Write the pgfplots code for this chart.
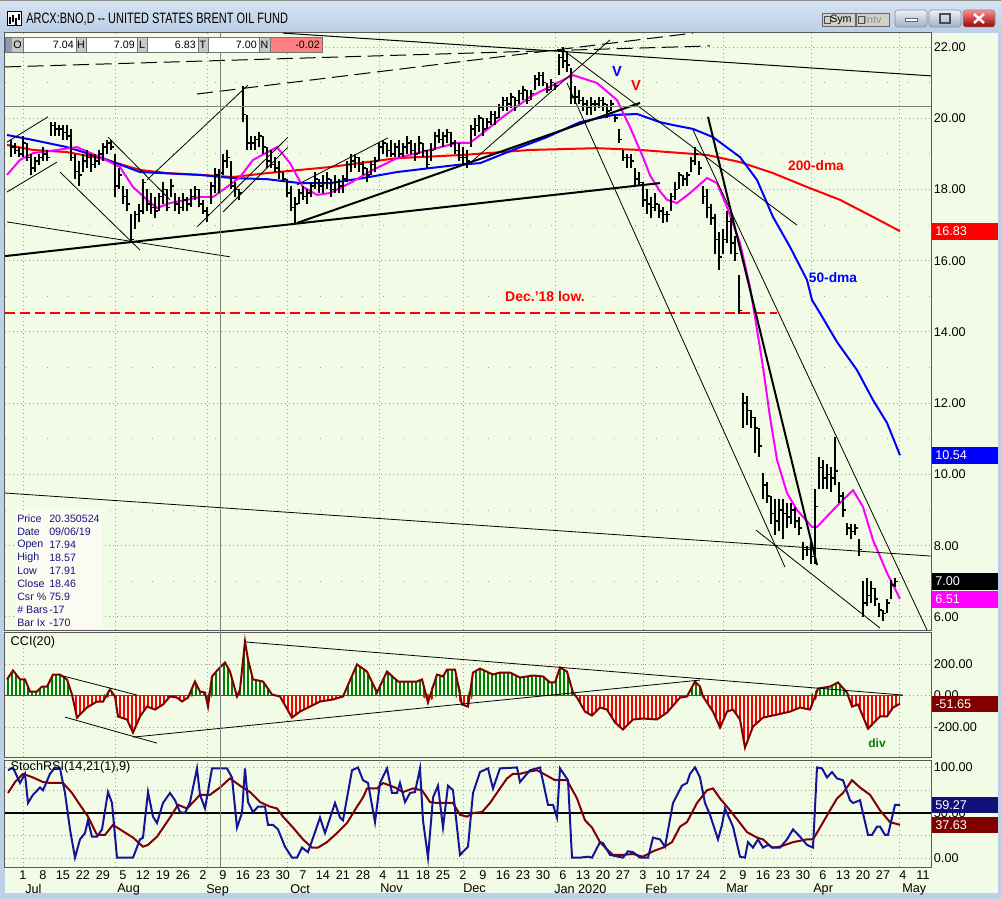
\documentclass[border=0pt]{standalone}
\usepackage{fontspec}
\setmainfont{Liberation Sans}
\newfontfamily\titlef[FakeStretch=0.73]{Liberation Sans}
\usepackage{pgfplots}
\usepackage{pgfplotstable}
\pgfplotsset{compat=1.18}
\usetikzlibrary{patterns.meta}

\definecolor{bg}{RGB}{242,251,230}
\definecolor{win}{RGB}{188,208,232}
\definecolor{titletop}{RGB}{215,228,242}
\definecolor{titlebot}{RGB}{186,206,230}
\definecolor{gridc}{RGB}{160,160,160}
\definecolor{ma50}{RGB}{0,0,255}
\definecolor{mag}{RGB}{255,0,255}
\definecolor{dred}{RGB}{128,0,0}
\definecolor{navy}{RGB}{20,20,150}
\definecolor{cgreen}{RGB}{0,128,0}
\definecolor{infoc}{RGB}{20,20,130}
\definecolor{infobg}{RGB}{252,251,242}
\definecolor{salmon}{RGB}{255,128,128}
\definecolor{cellg}{RGB}{200,200,200}
\definecolor{btn}{RGB}{212,208,200}

\newcommand\tf{\fontsize{9.5pt}{11pt}\selectfont}
\newcommand\smf{\fontsize{8pt}{9.75pt}\selectfont}

\pgfdeclareplotmark{rtick}{%
  \pgfpathmoveto{\pgfqpoint{0pt}{0pt}}%
  \pgfpathlineto{\pgfqpoint{\pgfplotmarksize}{0pt}}%
  \pgfusepathqstroke}

\pgfplotsset{panel/.style={
  scale only axis, width=694.5pt, xmin=5, xmax=931,
  axis background/.style={fill=bg},
  axis line style={draw=black!65, line width=0.75pt},
  major tick length=0pt, minor tick length=0pt,
  yticklabel pos=right,
  yticklabel style={font=\tf, anchor=west, inner sep=2pt},
  xticklabel style={font=\tf},
  major grid style={gridc, line width=0.75pt, dash pattern=on 0.75pt off 2.25pt},
  minor grid style={gridc, line width=0.75pt, dash pattern=on 0.75pt off 15pt},
}}

% daily bars: trading-day index t (x = 23 + 4 t pixels-of-time), high, low, close
\pgfplotstableread{
t h l c
-3 19.4 18.9 19.2
-2 19.3 19.0 19.1
-1 19.2 18.9 19.0
0 19.5 18.9 19.3
1 19.3 18.8 18.9
2 19.0 18.4 18.6
3 18.9 18.5 18.8
4 19.0 18.7 18.9
5 19.2 18.8 19.0
6 19.1 18.8 18.9
7 19.9 19.5 19.8
8 19.9 19.5 19.7
9 19.8 19.5 19.7
10 19.8 19.4 19.6
11 19.8 19.4 19.5
12 19.7 18.8 18.9
13 19.0 18.3 18.5
14 18.8 18.1 18.4
15 19.0 18.5 18.8
16 19.1 18.6 18.9
17 19.0 18.5 18.7
18 19.0 18.6 18.8
19 19.1 18.7 19.0
20 19.3 18.8 19.2
21 19.4 19.0 19.3
22 19.4 19.1 19.2
23 19.0 17.8 18.1
24 18.6 18.0 18.4
25 18.1 17.6 17.8
26 18.0 17.4 17.6
27 17.3 16.5 16.6
28 17.4 16.9 17.3
29 17.6 17.1 17.4
30 18.3 17.3 18.2
31 18.0 17.4 17.6
32 17.9 17.3 17.5
33 17.8 17.2 17.4
34 17.9 17.4 17.8
35 18.2 17.6 18.0
36 18.0 17.4 17.5
37 18.3 17.8 18.1
38 17.9 17.4 17.6
39 17.8 17.3 17.5
40 17.9 17.4 17.7
41 17.8 17.4 17.6
42 18.0 17.5 17.8
43 18.1 17.7 18.0
44 18.0 17.5 17.6
45 17.7 17.3 17.4
46 17.5 17.1 17.3
47 18.2 17.6 18.1
48 18.6 17.9 18.4
49 18.57 17.91 18.46
50 19.0 18.4 18.8
51 19.1 18.6 18.9
52 18.8 18.0 18.1
53 18.2 17.8 18.0
54 18.0 17.7 17.9
55 20.9 19.9 20.1
56 20.1 19.1 19.3
57 19.5 19.1 19.3
58 19.5 19.1 19.4
59 19.6 19.2 19.5
60 19.5 19.0 19.2
61 19.2 18.6 18.8
62 19.1 18.6 18.7
63 18.9 18.5 18.6
64 18.8 18.3 18.5
65 18.5 18.2 18.3
66 18.3 17.8 17.9
67 18.1 17.4 17.5
68 17.8 17.05 17.6
69 18.0 17.6 17.9
70 18.1 17.7 17.8
71 18.0 17.6 17.9
72 18.2 17.8 18.1
73 18.5 18.0 18.3
74 18.3 17.9 18.1
75 18.4 17.9 18.2
76 18.5 18.0 18.3
77 18.3 17.8 18.0
78 18.4 17.9 18.2
79 18.3 17.9 18.1
80 18.4 17.9 18.3
81 18.8 18.2 18.7
82 19.0 18.5 18.8
83 19.0 18.6 18.9
84 18.9 18.5 18.7
85 18.8 18.4 18.6
86 18.6 18.2 18.4
87 18.8 18.4 18.7
88 18.9 18.5 18.8
89 19.3 18.8 19.2
90 19.4 19.0 19.3
91 19.3 18.9 19.1
92 19.4 18.9 19.0
93 19.3 18.9 19.2
94 19.4 18.9 19.0
95 19.3 18.9 19.2
96 19.5 19.0 19.3
97 19.4 19.0 19.1
98 19.3 18.8 19.0
99 19.5 19.0 19.3
100 19.3 18.9 19.1
101 19.1 18.6 18.7
102 19.3 18.8 19.1
103 19.6 19.1 19.5
104 19.7 19.3 19.4
105 19.6 19.2 19.5
106 19.7 19.3 19.6
107 19.6 19.2 19.3
108 19.4 19.0 19.1
109 19.3 18.8 18.9
110 19.2 18.7 18.9
111 19.1 18.6 18.8
112 19.8 19.2 19.7
113 20.0 19.5 19.8
114 20.1 19.6 20.0
115 20.0 19.5 19.7
116 20.0 19.7 19.9
117 20.2 19.8 20.1
118 20.2 19.8 20.0
119 20.4 20.0 20.3
120 20.6 20.2 20.5
121 20.6 20.2 20.4
122 20.7 20.3 20.6
123 20.6 20.2 20.5
124 20.8 20.4 20.7
125 20.9 20.5 20.8
126 20.8 20.4 20.5
127 20.8 20.5 20.7
128 21.2 20.8 21.1
129 21.3 20.9 21.2
130 21.3 20.9 21.0
131 21.0 20.7 20.8
132 21.1 20.8 21.0
133 21.0 20.8 20.9
134 21.8 21.2 21.7
135 22.0 21.4 21.6
136 21.9 21.3 21.5
137 21.4 20.4 20.6
138 20.9 20.4 20.6
139 20.8 20.4 20.5
140 20.6 20.2 20.4
141 20.5 20.1 20.3
142 20.6 20.1 20.4
143 20.5 20.2 20.4
144 20.6 20.3 20.5
145 20.6 20.2 20.4
146 20.4 20.0 20.2
147 20.5 20.2 20.4
148 20.1 19.9 20.0
149 19.7 19.3 19.4
150 19.1 18.8 18.9
151 19.0 18.6 18.9
152 19.0 18.6 18.8
153 18.6 18.1 18.3
154 18.5 18.1 18.2
155 18.2 17.5 17.7
156 18.0 17.3 17.6
157 17.8 17.2 17.5
158 17.9 17.4 17.6
159 17.6 17.2 17.4
160 17.5 17.05 17.3
161 17.4 17.1 17.3
162 17.9 17.4 17.8
163 18.2 17.7 18.0
164 18.5 18.0 18.4
165 18.4 18.1 18.3
166 18.5 18.1 18.4
167 18.9 18.5 18.8
168 19.2 18.7 19.0
169 18.8 18.4 18.6
170 18.1 17.6 17.8
171 18.0 17.2 17.5
172 17.6 17.0 17.2
173 17.3 16.2 16.6
174 16.8 15.75 16.1
175 16.9 16.2 16.6
176 17.4 16.5 17.1
177 17.2 16.2 16.5
178 16.7 16.0 16.2
179 15.6 14.5 14.6
180 12.3 11.3 12.0
181 12.2 11.4 11.8
182 11.8 11.3 11.6
183 11.6 10.6 11.3
184 11.3 10.5 10.8
185 10.05 9.3 9.7
186 9.8 9.2 9.4
187 9.4 8.6 8.9
188 9.3 8.3 8.7
189 9.3 8.4 9.0
190 9.3 8.2 8.9
191 9.2 8.5 8.8
192 9.2 8.6 9.0
193 9.1 8.5 8.7
194 8.8 8.3 8.5
195 8.1 7.6 7.9
196 8.0 7.7 7.9
197 8.1 7.5 7.7
198 9.6 7.5 9.1
199 10.5 9.6 10.2
200 10.4 9.6 9.9
201 10.3 9.6 10.0
202 10.2 9.5 9.9
203 11.05 9.7 10.1
204 9.8 9.2 9.4
205 9.5 8.8 9.0
206 8.65 8.3 8.5
207 8.6 8.2 8.4
208 8.6 8.3 8.5
209 8.2 7.7 7.9
210 7.0 6.0 6.4
211 7.1 6.3 6.6
212 7.0 6.4 6.8
213 6.8 6.3 6.5
214 6.4 6.0 6.2
215 6.2 5.9 6.1
216 6.5 6.1 6.4
217 7.05 6.5 6.9
218 7.09 6.83 7.00
}\price

\pgfplotstableread{
x v
7 19.25
33 19.11
67 19.05
100 18.88
140 18.55
167 18.46
200 18.41
233 18.35
267 18.46
300 18.55
330 18.63
397 18.88
463 18.97
530 19.11
597 19.16
640 19.11
707 18.97
740 18.77
773 18.46
807 18.07
840 17.71
873 17.23
900 16.83
}\maA

\pgfplotstableread{
x v
7 19.53
33 19.39
67 19.19
100 18.91
140 18.49
200 18.41
233 18.32
267 18.29
300 18.18
330 18.18
363 18.32
397 18.49
457 18.69
480 18.74
513 19.11
547 19.47
580 19.89
613 20.09
637 20.12
660 19.89
673 19.81
693 19.70
713 19.47
740 18.91
757 18.27
773 17.23
790 16.39
807 15.46
812 14.90
820 14.53
837 13.72
857 12.93
873 12.09
887 11.45
900 10.54
}\maB

\pgfplotstableread{
x v
7 18.41
20 18.83
33 19.02
57 19.11
77 19.19
100 18.91
120 18.63
133 18.07
147 17.71
157 17.48
170 17.62
187 17.71
200 17.79
213 17.79
227 18.07
240 18.35
253 18.83
277 19.19
290 18.74
303 18.07
317 17.85
330 17.90
350 18.18
373 18.55
397 18.88
430 19.11
457 19.31
470 19.31
483 19.59
503 20.04
530 20.60
557 20.99
573 21.21
597 20.99
617 20.51
630 19.75
643 18.91
650 18.40
660 17.95
667 17.71
677 17.62
690 17.90
707 18.32
717 18.18
727 17.51
740 16.50
750 15.26
755 14.42
763 13.02
770 11.61
777 10.41
787 9.48
797 9.00
812 8.53
817 8.53
833 9.00
840 9.20
853 9.56
863 9.09
873 8.16
887 7.24
900 6.51
}\maC

\pgfplotstableread{
x v
7 102
13 159
20 102
25 102
30 25
37 25
42 57
47 57
53 133
60 133
67 102
72 6
77 -140
87 -76
97 -38
103 -38
110 38
115 -6
118 -133
127 -152
133 -235
140 -133
147 -70
155 -89
163 -57
170 -6
177 -13
182 -38
188 -13
195 89
200 25
205 19
208 -70
212 121
218 165
225 210
230 152
237 -6
240 38
245 343
248 229
253 102
263 89
272 6
280 -6
292 -140
300 -102
310 -70
320 -38
333 -25
343 -6
357 197
367 152
377 19
387 152
398 89
417 89
422 102
428 -44
437 133
443 121
447 165
455 165
462 -57
468 -70
473 146
480 171
493 133
500 146
510 146
520 114
533 127
543 121
550 83
555 83
560 178
567 152
573 19
577 -13
585 -102
592 -127
600 -76
607 -89
615 -171
623 -216
633 -152
643 -146
657 -152
667 -108
680 -13
687 -6
695 89
700 57
703 -6
713 -102
720 -203
727 -102
733 -89
740 -152
745 -330
753 -197
763 -140
777 -121
790 -102
800 -76
810 -89
818 44
830 57
838 83
847 19
852 -70
858 -57
868 -210
880 -133
887 -133
893 -76
900 -52
}\cci

\pgfplotstableread{
x v
8 97
13 100
20 83
25 93
28 61
33 70
40 78
43 75
50 93
55 100
60 99
65 72
70 32
75 1
80 21
85 28
88 42
92 24
97 24
102 32
108 73
112 61
117 1
125 1
133 1
140 21
143 23
148 73
153 46
157 39
163 61
170 72
175 64
180 51
185 50
190 62
197 99
200 70
205 55
212 99
227 99
232 89
237 34
242 50
245 99
248 62
253 51
258 57
265 57
268 37
273 37
278 32
285 13
292 1
297 1
302 12
308 7
315 29
320 45
325 28
335 61
340 45
343 42
352 97
358 100
363 86
368 83
375 40
380 83
387 99
392 72
397 72
400 83
405 62
410 72
415 73
420 99
423 42
428 1
433 67
438 80
443 34
448 80
453 75
460 4
468 13
473 72
480 95
488 99
493 77
500 99
517 100
520 84
530 97
540 100
548 59
553 59
557 45
560 99
568 86
572 1
580 1
588 2
592 1
600 18
603 17
610 4
623 1
628 8
633 7
640 1
648 1
653 23
660 21
665 13
673 61
682 80
687 83
690 93
695 100
700 89
705 61
710 48
718 21
722 37
725 55
733 35
740 2
745 1
748 18
753 12
758 21
763 12
768 15
773 12
780 12
787 21
793 32
800 24
807 15
813 12
817 100
822 99
827 89
832 95
837 88
843 86
850 64
853 61
860 64
868 26
872 26
877 35
880 35
885 26
888 26
895 59
900 59
}\srsi

\pgfplotstableread{
x v
8 72
15 84
23 93
33 89
43 84
50 83
63 83
72 72
78 62
88 46
97 26
105 26
113 37
120 32
133 23
143 13
148 15
157 24
170 45
178 59
187 55
195 64
200 70
210 70
220 78
230 88
240 80
250 73
260 62
270 57
277 55
283 46
293 34
303 21
312 12
318 12
327 18
337 28
347 39
357 57
363 67
367 77
377 77
383 83
395 78
403 73
413 77
422 75
430 62
437 61
447 61
453 61
460 48
467 46
473 50
482 51
490 61
500 77
507 88
513 93
520 93
527 95
537 97
547 91
555 86
567 86
577 66
585 42
592 34
600 18
607 10
613 4
623 4
633 5
643 2
653 8
663 12
672 18
680 35
687 40
697 61
707 75
713 77
720 66
730 53
740 39
747 29
757 23
763 21
772 12
780 13
793 18
807 21
813 21
820 34
830 53
837 66
843 72
852 86
860 78
870 70
880 53
890 40
900 37
}\sig

\begin{document}
\begin{tikzpicture}
% ---------- window background ----------
\begin{scope}[x=0.75pt,y=-0.75pt]
  \fill[bg] (0,0) rectangle (1001,899);
  \shade[top color=titletop, bottom color=titlebot] (0,0) rectangle (1001,33);
  \draw[black!45, line width=0.75pt] (0,0.5) -- (1001,0.5);
  \fill[win] (0,33) rectangle (5,899);
  \fill[win] (998,33) rectangle (1001,899);
  \fill[win] (0,893) rectangle (1001,899);
\end{scope}

% ---------- price panel ----------
\begin{axis}[panel, at={(3.75pt,-24.75pt)}, anchor=north west, height=447.75pt,
  ymin=5.635, ymax=22.393,
  ytick={6,8,10,12,14,16,18,20,22},
  yticklabels={6.00,8.00,10.00,12.00,14.00,16.00,18.00,20.00,22.00},
  minor ytick={7,9,11,13,15,17,19,21},
  xtick={23,115,207,287,379,463,555,643,723,811,899}, xticklabels={},
  ymajorgrids, yminorgrids, xmajorgrids]
  % Dec '18 low
  \addplot[red, line width=1.1pt, dash pattern=on 7.5pt off 3.75pt] coordinates {(5,14.53) (777,14.53)};
  % moving averages
  \addplot[red, line width=1.5pt] table[x=x,y=v] {\maA};
  \addplot[ma50, line width=1.5pt] table[x=x,y=v] {\maB};
  \addplot[mag, line width=1.5pt] table[x=x,y=v] {\maC};
  % trend lines (thin)
  \addplot[black, line width=0.75pt, dash pattern=on 12pt off 5pt] coordinates {(5,21.44) (710,22.03)};
  \addplot[black, line width=0.75pt, dash pattern=on 12pt off 5pt] coordinates {(197,20.68) (693,22.39)};
  \addplot[black, line width=0.75pt] coordinates {(283,22.39) (931,21.19)};
  \addplot[black, line width=0.6pt] coordinates {(7,17.93) (57,18.77)};
  \addplot[black, line width=0.6pt] coordinates {(7,19.33) (48,20.04)};
  \addplot[black, line width=0.6pt] coordinates {(60,18.49) (140,16.30)};
  \addplot[black, line width=0.6pt] coordinates {(108,19.47) (170,17.71)};
  \addplot[black, line width=0.6pt] coordinates {(7,17.09) (230,16.11)};
  \addplot[black, line width=0.6pt] coordinates {(147,18.27) (248,20.93)};
  \addplot[black, line width=0.6pt] coordinates {(197,16.95) (288,19.47)};
  \addplot[black, line width=0.6pt] coordinates {(223,17.37) (288,19.19)};
  \addplot[black, line width=0.6pt] coordinates {(297,18.13) (388,19.45)};
  \addplot[black, line width=0.6pt] coordinates {(470,18.74) (610,22.20)};
  \addplot[black, line width=0.6pt] coordinates {(567,20.99) (785,7.40)};
  \addplot[black, line width=0.6pt] coordinates {(563,21.92) (797,17.00)};
  \addplot[black, line width=0.6pt] coordinates {(693,19.67) (927,5.635)};
  \addplot[black, line width=0.6pt] coordinates {(5,9.48) (931,7.71)};
  \addplot[black, line width=0.6pt] coordinates {(756,8.44) (880,5.69)};
  % thick trend lines
  \addplot[black, line width=1.5pt] coordinates {(5,16.13) (660,18.18)};
  \addplot[black, line width=1.5pt] coordinates {(297,17.06) (640,20.43)};
  \addplot[black, line width=1.5pt] coordinates {(708,20.04) (817,7.46)};
  % price bars
  \addplot[black, only marks, mark=rtick, mark size=2pt, mark options={line width=1.2pt},
    error bars/.cd, y dir=both, y explicit, error mark=none,
    error bar style={line width=1.3pt, black}]
    table[x expr=23+4*\thisrow{t}, y=c,
          y error plus expr=\thisrow{h}-\thisrow{c},
          y error minus expr=\thisrow{c}-\thisrow{l}] {\price};
  % annotations
  \node[red, font=\fontsize{10.5pt}{12pt}\selectfont\bfseries] at (axis cs:545,15.01) {Dec.'18 low.};
  \node[red, font=\fontsize{10.3pt}{12pt}\selectfont\bfseries] at (axis cs:816,18.66) {200-dma};
  \node[ma50, font=\fontsize{10.3pt}{12pt}\selectfont\bfseries] at (axis cs:833,15.52) {50-dma};
  \node[ma50, font=\fontsize{11pt}{12pt}\selectfont\bfseries] at (axis cs:617,21.30) {V};
  \node[red, font=\fontsize{11pt}{12pt}\selectfont\bfseries] at (axis cs:636,20.93) {V};
\end{axis}

% ---------- CCI panel ----------
\begin{axis}[panel, at={(3.75pt,-474pt)}, anchor=north west, height=93.75pt,
  ymin=-390, ymax=403,
  ytick={-200,0,200}, yticklabels={-200.00,0.00,200.00},
  xtick={23,115,207,287,379,463,555,643,723,811,899}, xticklabels={},
  ymajorgrids, xmajorgrids]
  \addplot[draw=none, pattern={Lines[angle=90,distance=3pt,line width=0.8pt]}, pattern color=cgreen]
    table[x=x, y expr={max(\thisrow{v},0)}] {\cci} \closedcycle;
  \addplot[draw=none, pattern={Lines[angle=90,distance=3pt,line width=0.8pt]}, pattern color=red]
    table[x=x, y expr={min(\thisrow{v},0)}] {\cci} \closedcycle;
  \addplot[red, line width=0.75pt] coordinates {(5,0) (903,0)};
  \addplot[dred, line width=1.5pt] table[x=x,y=v] {\cci};
  \addplot[black, line width=0.6pt] coordinates {(63,124) (137,3)};
  \addplot[black, line width=0.6pt] coordinates {(65,-137) (157,-302)};
  \addplot[black, line width=0.6pt] coordinates {(133,-264) (700,98)};
  \addplot[black, line width=0.6pt] coordinates {(245,340) (903,3)};
  \node[anchor=west, font=\tf] at (axis cs:6,335) {CCI(20)};
  \node[cgreen, font=\fontsize{9pt}{10pt}\selectfont\bfseries] at (axis cs:877,-305) {div};
\end{axis}

% ---------- StochRSI panel ----------
\begin{axis}[panel, at={(3.75pt,-570pt)}, anchor=north west, height=80.25pt,
  ymin=-9.3, ymax=108.2,
  ytick={0,50,100}, yticklabels={0.00,50.00,100.00},
  minor ytick={25,75},
  ymajorgrids, yminorgrids,
  minor grid style={gridc, line width=0.75pt, dash pattern=on 0.75pt off 2.25pt},
  xtick={23,43,...,923},
  xticklabels={1,8,15,22,29,5,12,19,26,2,9,16,23,30,7,14,21,28,4,11,18,25,2,9,16,23,30,6,13,20,27,3,10,17,24,2,9,16,23,30,6,13,20,27,4,11},
  xticklabel style={anchor=north, yshift=1pt},
  extra x ticks={23,115,207,287,379,463,555,643,723,811,899},
  extra x tick labels={},
  extra x tick style={grid=major}]
  \addplot[black, line width=1.5pt] coordinates {(5,50) (931,50)};
  \addplot[dred, line width=1.5pt] table[x=x,y=v] {\sig};
  \addplot[navy, line width=1.5pt] table[x=x,y=v] {\srsi};
  \node[anchor=west, font=\tf] at (axis cs:6,100) {StochRSI(14,21(1),9)};
\end{axis}

% ---------- overlays ----------
\begin{scope}[x=0.75pt,y=-0.75pt]
  % crosshair
  \draw[black!50, line width=0.75pt] (220,33) -- (220,867);
  \draw[black!50, line width=0.75pt] (5,106.5) -- (931,106.5);
  % title bar
  \fill[white] (7,12) rectangle (21,26);
  \draw[black, line width=0.75pt] (7,12) rectangle (21,26);
  \foreach \xx/\ya/\yb in {10/17/24, 13/15/22, 16/18/25, 19/14/20}
    \draw[black, line width=1pt] (\xx,\ya) -- (\xx,\yb);
  \node[anchor=west, inner sep=0pt, font=\titlef\fontsize{11.3pt}{13pt}\selectfont] at (26,19.5) {ARCX:BNO,D {-}{-} UNITED STATES BRENT OIL FUND};
  \fill[btn] (822,13) rectangle (855,26);
  \draw[black!60, line width=0.5pt] (822,13) rectangle (855,26);
  \draw[black!70, line width=0.5pt] (824,16) rectangle (830,23);
  \node[anchor=west, inner sep=0pt, font=\smf] at (830,19.5) {Sym};
  \fill[btn] (856,13) rectangle (889,26);
  \draw[black!60, line width=0.5pt] (856,13) rectangle (889,26);
  \draw[black!70, line width=0.5pt] (858,16) rectangle (864,23);
  \node[anchor=west, inner sep=0pt, font=\smf, black!45] at (864,19.5) {Intv};
  \shade[top color=white!70!win, bottom color=win!85!black, rounded corners=2pt, draw=black!45] (895,10) rectangle (927,27);
  \fill[white] (905,18) rectangle (917,21); \draw[black!60, line width=0.5pt] (905,18) rectangle (917,21);
  \shade[top color=white!70!win, bottom color=win!85!black, rounded corners=2pt, draw=black!45] (929,10) rectangle (961,27);
  \draw[black!70, line width=0.8pt] (940,14) rectangle (950,23);
  \shade[top color=red!45!white, bottom color=red!60!black, rounded corners=2pt, draw=black!45] (963,10) rectangle (995,27);
  \draw[white, line width=1.8pt] (974,14) -- (984,23) (974,23) -- (984,14);
  % header cells
  \fill[black!25!win] (5,37) rectangle (12,52);
  \fill[cellg] (12,37) rectangle (23,52);
  \fill[white] (23,37) rectangle (76,52);
  \fill[cellg] (76,37) rectangle (86,52);
  \fill[white] (86,37) rectangle (137,52);
  \fill[cellg] (137,37) rectangle (147,52);
  \fill[white] (147,37) rectangle (198,52);
  \fill[cellg] (198,37) rectangle (208,52);
  \fill[white] (208,37) rectangle (259,52);
  \fill[cellg] (259,37) rectangle (270,52);
  \fill[salmon] (270,37) rectangle (322,52);
  \draw[black!55, line width=0.5pt] (5,37) rectangle (322,52);
  \foreach \xx in {23,76,86,137,147,198,208,259,270}
    \draw[black!55, line width=0.5pt] (\xx,37) -- (\xx,52);
  \begin{scope}[every node/.style={font=\smf, inner sep=0pt}]
    \node at (17.5,44.8) {O};
    \node[anchor=east] at (74,44.8) {7.04};
    \node at (81,44.8) {H};
    \node[anchor=east] at (135,44.8) {7.09};
    \node at (142,44.8) {L};
    \node[anchor=east] at (196,44.8) {6.83};
    \node at (203,44.8) {T};
    \node[anchor=east] at (257,44.8) {7.00};
    \node at (264.5,44.8) {N};
    \node[anchor=east] at (320,44.8) {-0.02};
  \end{scope}
  % info box
  \fill[infobg] (15,510) rectangle (102,629);
  \begin{scope}[every node/.style={font=\smf, inner sep=0pt, anchor=west, text=infoc}]
    \node at (17,518.5) {Price}; \node at (49,518.5) {20.350524};
    \node at (17,531.5) {Date};  \node at (49,531.5) {09/06/19};
    \node at (17,544.5) {Open};  \node at (49,544.5) {17.94};
    \node at (17,557.5) {High};  \node at (49,557.5) {18.57};
    \node at (17,570.5) {Low};   \node at (49,570.5) {17.91};
    \node at (17,583.5) {Close}; \node at (49,583.5) {18.46};
    \node at (17,596.5) {Csr \%}; \node at (49,596.5) {75.9};
    \node at (17,609.5) {\# Bars}; \node at (49,609.5) {-17};
    \node at (17,622.5) {Bar Ix}; \node at (49,622.5) {-170};
  \end{scope}
  % last-value boxes
  \begin{scope}[every node/.style={font=\tf, inner sep=0pt, anchor=west, text=white}]
    \fill[red] (932,223) rectangle (1001,240);   \node at (935,231.5) {16.83};
    \fill[ma50] (932,447) rectangle (1001,464);  \node at (935,455.5) {10.54};
    \fill[black] (932,573) rectangle (1001,590); \node at (935,581.5) {7.00};
    \fill[mag] (932,591) rectangle (1001,608);   \node at (935,599.5) {6.51};
    \fill[dred] (932,696) rectangle (1001,712);  \node at (935,704) {-51.65};
    \fill[navy!80!black] (932,797) rectangle (1001,813); \node at (935,805) {59.27};
    \fill[dred] (932,817) rectangle (1001,833);  \node at (935,825) {37.63};
  \end{scope}
  \fill[win] (998,33) rectangle (1001,899);
  % month labels
  \begin{scope}[every node/.style={font=\tf, inner sep=0pt, anchor=north west}]
    \node at (25,884) {Jul};
    \node at (117,884) {Aug};
    \node at (206,884) {Sep};
    \node at (290,884) {Oct};
    \node at (380,884) {Nov};
    \node at (463,884) {Dec};
    \node at (554,884) {Jan 2020};
    \node at (645,884) {Feb};
    \node at (726,884) {Mar};
    \node at (813,884) {Apr};
    \node at (902,884) {May};
  \end{scope}
  \pgfresetboundingbox
  \useasboundingbox (0,0) rectangle (1001,899);
\end{scope}
\end{tikzpicture}
\end{document}
